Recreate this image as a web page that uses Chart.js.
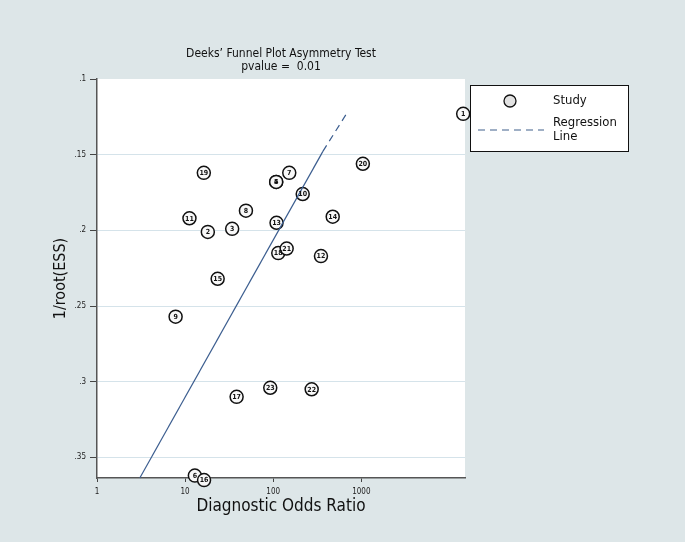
<!DOCTYPE html>
<html>
<head>
<meta charset="utf-8">
<script src="https://cdn.jsdelivr.net/npm/chart.js@4"></script>
<style>
  body { margin: 0; background: #dde6e8; }
  #wrap { width: 685px; height: 542px; }
</style>
</head>
<body>
<div id="wrap"><canvas id="chart"></canvas></div>
<script>
// study data
const studyIds = ['1', '2', '3', '4', '5', '6', '7', '8', '9', '10', '11', '12',
  '13', '14', '15', '16', '17', '18', '19', '20', '21', '22', '23'];
const dor = [14300, 18.1, 34.2, 108, 108, 12.9, 152, 49, 7.8, 216, 11.2, 348,
  109, 473, 23.4, 16.4, 38.4, 114, 16.3, 1040, 142, 273, 92.5];
const invRootEss = [0.123, 0.201, 0.199, 0.168, 0.168, 0.362, 0.162, 0.187, 0.257, 0.176, 0.192, 0.217,
  0.195, 0.191, 0.232, 0.365, 0.310, 0.215, 0.162, 0.156, 0.212, 0.305, 0.304];

// regression line: start, end of solid part, end of dashed part
const regX = [3.06, 366, 693];
const regY = [0.3636, 0.1478, 0.1221];

const xTicks = [1, 10, 100, 1000];
const yTicks = [0.1, 0.15, 0.2, 0.25, 0.3, 0.35];
const yTickLabels = ['.1', '.15', '.2', '.25', '.3', '.35'];

const FONT = '"Liberation Sans Narrow", "DejaVu Sans Condensed", "Liberation Sans", sans-serif';
const LINE_COLOR = '#3b5d8f';

const plotBackground = {
  id: 'plotBackground',
  beforeDraw(chart) {
    const {ctx, chartArea: a} = chart;
    ctx.save();
    ctx.fillStyle = '#dde6e8';
    ctx.fillRect(0, 0, chart.width, chart.height);
    ctx.fillStyle = '#ffffff';
    ctx.fillRect(a.left, a.top, a.right - a.left, a.bottom - a.top);
    ctx.restore();
  }
};

// numbers inside the study circles
const pointLabels = {
  id: 'pointLabels',
  afterDatasetsDraw(chart) {
    const ctx = chart.ctx;
    const meta = chart.getDatasetMeta(1);
    ctx.save();
    ctx.font = '600 7px ' + FONT;
    ctx.fillStyle = '#111';
    ctx.textAlign = 'center';
    ctx.textBaseline = 'middle';
    meta.data.forEach((pt, i) => {
      ctx.fillText(studyIds[i], pt.x, pt.y + 0.5);
    });
    ctx.restore();
  }
};

const boxLegend = {
  id: 'boxLegend',
  afterDraw(chart) {
    const ctx = chart.ctx;
    const x = chart.chartArea.right + 5, y = 85, w = 158, h = 66;
    ctx.save();
    ctx.fillStyle = '#ffffff';
    ctx.fillRect(x, y, w, h);
    ctx.strokeStyle = '#111';
    ctx.lineWidth = 1;
    ctx.strokeRect(x + 0.5, y + 0.5, w, h);

    ctx.beginPath();
    ctx.arc(x + 40, y + 16, 6, 0, Math.PI * 2);
    ctx.fillStyle = '#e2e2e2';
    ctx.fill();
    ctx.strokeStyle = '#111';
    ctx.lineWidth = 1.3;
    ctx.stroke();

    ctx.beginPath();
    ctx.setLineDash([7, 5]);
    ctx.strokeStyle = '#8095b3';
    ctx.lineWidth = 1.3;
    ctx.moveTo(x + 8, y + 45);
    ctx.lineTo(x + 74, y + 45);
    ctx.stroke();
    ctx.setLineDash([]);

    ctx.fillStyle = '#111';
    ctx.font = '13px ' + FONT;
    ctx.textAlign = 'left';
    ctx.textBaseline = 'middle';
    ctx.fillText('Study', x + 83, y + 16);
    ctx.fillText('Regression', x + 83, y + 38);
    ctx.fillText('Line', x + 83, y + 52);
    ctx.restore();
  }
};

new Chart(document.getElementById('chart'), {
  data: {
    datasets: [{
      type: 'line',
      label: 'Regression Line',
      data: regX.map((v, i) => ({x: v, y: regY[i]})),
      borderColor: LINE_COLOR,
      borderWidth: 1.2,
      pointRadius: 0,
      fill: false,
      tension: 0,
      clip: false,
      segment: {
        borderDash: c => c.p0DataIndex === 1 ? [7, 5] : undefined
      }
    }, {
      type: 'scatter',
      label: 'Study',
      data: dor.map((v, i) => ({x: v, y: invRootEss[i]})),
      pointRadius: 6.5,
      pointBackgroundColor: '#f8f8f8',
      pointBorderColor: '#111',
      pointBorderWidth: 1.5,
      clip: false
    }]
  },
  options: {
    responsive: true,
    maintainAspectRatio: false,
    animation: false,
    layout: { padding: { left: 0, right: 220, top: 0, bottom: 0 } },
    plugins: {
      legend: { display: false },
      tooltip: { enabled: false },
      title: {
        display: true,
        fullSize: false,
        text: ['Deeks\u2019 Funnel Plot Asymmetry Test', 'pvalue =  0.01'],
        color: '#111',
        font: { family: FONT, size: 12, weight: 'normal', lineHeight: 1.05 },
        padding: { top: 48, bottom: 5.8 }
      }
    },
    scales: {
      x: {
        type: 'logarithmic',
        position: 'bottom',
        min: 1,
        max: 15000,
        afterBuildTicks: s => { s.ticks = xTicks.map(v => ({value: v})); },
        afterFit: s => { s.height = 64; },
        ticks: {
          color: '#222',
          font: { family: FONT, size: 8 },
          padding: 5,
          maxRotation: 0,
          callback: v => String(v)
        },
        grid: { drawOnChartArea: false, drawTicks: true, tickLength: 4, tickColor: '#444' },
        border: { color: '#555', width: 1.5 },
        title: {
          display: true,
          text: 'Diagnostic Odds Ratio',
          color: '#111',
          font: { family: FONT, size: 17, lineHeight: 1 },
          padding: { top: 0, bottom: 27 }
        }
      },
      y: {
        type: 'linear',
        reverse: true,
        min: 0.1,
        max: 0.3636,
        afterBuildTicks: s => { s.ticks = yTicks.map(v => ({value: v})); },
        afterFit: s => { s.width = 97; },
        ticks: {
          color: '#222',
          font: { family: FONT, size: 8 },
          padding: 4,
          callback: (v, i) => yTickLabels[i]
        },
        grid: {
          color: c => (c.tick && c.tick.value === 0.1) ? 'rgba(0,0,0,0)' : '#d5e3ea',
          lineWidth: 1,
          tickLength: 7,
          tickColor: '#444'
        },
        border: { color: '#555', width: 1.5 },
        title: {
          display: true,
          text: '1/root(ESS)',
          color: '#111',
          font: { family: FONT, size: 16, lineHeight: 1 },
          padding: { top: 53, bottom: 0 }
        }
      }
    }
  },
  plugins: [plotBackground, pointLabels, boxLegend]
});
</script>
</body>
</html>
